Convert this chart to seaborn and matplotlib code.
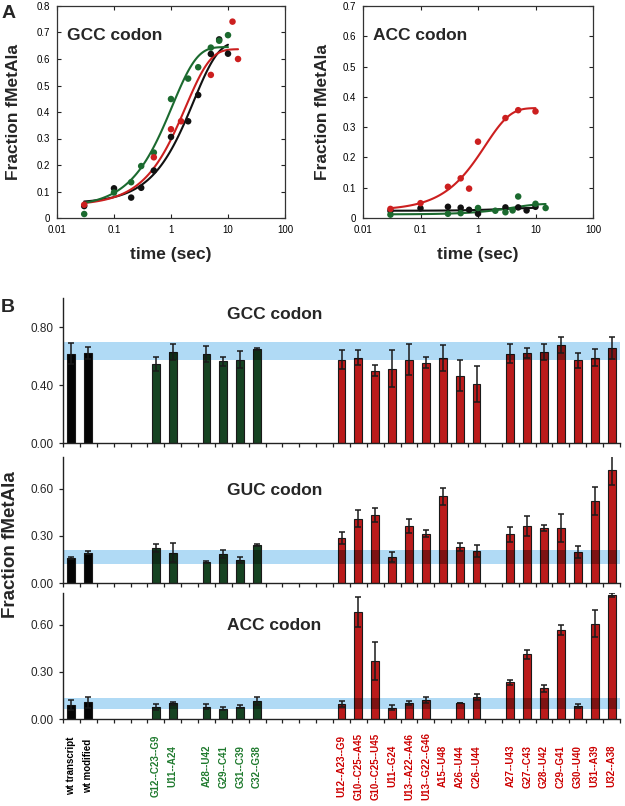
import numpy as np
import pandas as pd
import matplotlib
matplotlib.use("Agg")
import matplotlib.pyplot as plt
from matplotlib import ticker
from matplotlib.path import Path
import seaborn as sns

sns.set_style("ticks")
plt.rcParams["font.family"] = ["Liberation Sans", "DejaVu Sans"]

# ---------------- panel A : time courses ----------------
gcc_black_t = [0.03, 0.1, 0.2, 0.3, 0.5, 1, 2, 3, 5, 7, 10]
gcc_black_y = [0.045, 0.112, 0.077, 0.114, 0.179, 0.306, 0.365, 0.464, 0.619, 0.674, 0.62]
gcc_green_t = [0.03, 0.1, 0.2, 0.3, 0.5, 1, 2, 3, 5, 7, 10]
gcc_green_y = [0.015, 0.096, 0.135, 0.196, 0.247, 0.449, 0.526, 0.569, 0.643, 0.669, 0.69]
gcc_red_t = [0.03, 0.5, 1, 1.5, 5, 12, 15]
gcc_red_y = [0.05, 0.229, 0.335, 0.365, 0.54, 0.741, 0.6]

acc_red_t = [0.03, 0.1, 0.3, 0.5, 0.7, 1, 3, 5, 10]
acc_red_y = [0.03, 0.049, 0.103, 0.131, 0.097, 0.252, 0.33, 0.356, 0.352]
acc_black_t = [0.03, 0.1, 0.3, 0.5, 0.7, 1, 3, 5, 7, 10]
acc_black_y = [0.024, 0.032, 0.037, 0.034, 0.027, 0.014, 0.035, 0.035, 0.025, 0.037]
acc_green_t = [0.03, 0.3, 0.5, 1, 2, 3, 4, 5, 10, 15]
acc_green_y = [0.011, 0.014, 0.016, 0.033, 0.024, 0.019, 0.025, 0.071, 0.047, 0.033]

# single exponential fits: (start, amplitude, k, last time)
gcc_fits = {"black": (0.055, 0.61, 0.40, 10), "red": (0.047, 0.59, 0.55, 15),
            "green": (0.04, 0.605, 0.95, 10)}
acc_fits = {"black": (0.024, 0.01, 0.3, 10), "green": (0.012, 0.035, 0.25, 15),
            "red": (0.025, 0.338, 0.75, 10)}

pal_a = {"black": "#111111", "red": "#cc1f1f", "green": "#1b6a2f"}

# ---------------- panel B : bar charts ----------------
layout = ["wt transcript", "wt modified", "", "", "",
          "G12--C23--G9", "U11--A24", "", "A28--U42", "G29--C41", "G31--C39", "C32--G38",
          "", "", "", "",
          "U12--A23--G9", "G10--C25--A45", "G10--C25--U45", "U11--G24", "U13--A22--A46",
          "U13--G22--G46", "A15--U48", "A26--U44", "C26--U44", "",
          "A27--U43", "G27--C43", "G28--U42", "C29--G41", "G30--U40", "U31--A39", "U32--A38"]
groups = ["wt"] * 2 + ["green"] * 6 + ["red"] * 16

gcc_val = [0.617, 0.62,
           0.548, 0.626, 0.617, 0.564, 0.575, 0.647,
           0.575, 0.589, 0.499, 0.513, 0.575, 0.555, 0.589, 0.464, 0.407,
           0.617, 0.62, 0.626, 0.675, 0.57, 0.589, 0.654]
gcc_err = [0.07, 0.04,
           0.048, 0.055, 0.055, 0.03, 0.058, 0.005,
           0.065, 0.05, 0.04, 0.13, 0.105, 0.04, 0.09, 0.106, 0.127,
           0.063, 0.033, 0.055, 0.055, 0.05, 0.056, 0.076]
guc_val = [0.158, 0.193,
           0.221, 0.193, 0.135, 0.185, 0.147, 0.242,
           0.286, 0.408, 0.433, 0.164, 0.364, 0.313, 0.55, 0.231, 0.202,
           0.31, 0.364, 0.349, 0.349, 0.196, 0.522, 0.716]
guc_err = [0.005, 0.01,
           0.025, 0.06, 0.005, 0.025, 0.02, 0.008,
           0.04, 0.055, 0.043, 0.032, 0.044, 0.022, 0.054, 0.025, 0.04,
           0.047, 0.063, 0.021, 0.089, 0.04, 0.088, 0.094]
acc_val = [0.089, 0.106,
           0.075, 0.1, 0.079, 0.064, 0.079, 0.112,
           0.094, 0.677, 0.366, 0.0725, 0.1, 0.119, np.nan, 0.104, 0.1375,
           0.233, 0.41, 0.194, 0.566, 0.081, 0.606, 0.785]
acc_err = [0.03, 0.035,
           0.02, 0.01, 0.015, 0.01, 0.008, 0.025,
           0.02, 0.095, 0.12, 0.017, 0.014, 0.019, np.nan, 0.0, 0.019,
           0.017, 0.027, 0.025, 0.031, 0.013, 0.088, 0.013]

# wt range bands (low, high)
gcc_band = (0.575, 0.70)
guc_band = (0.122, 0.21)
acc_band = (0.066, 0.135)

pal_b = {"wt": "#050505", "green": "#0f4a1e", "red": "#d60000"}
lab_col = {"wt": "#000000", "green": "#1f7a2e", "red": "#cc0000"}

W, H = 625, 806
fig = plt.figure(figsize=(W / 100, H / 100), dpi=100)


def px_axes(x0, y0, x1, y1):
    return fig.add_axes([x0 / W, 1 - y1 / H, (x1 - x0) / W, (y1 - y0) / H])


def time_panel(ax, series, fits, ymax, title):
    pts = pd.concat([pd.DataFrame({"t": t, "y": y, "s": s}) for s, (t, y) in series.items()])
    curves = []
    for s, (a0, amp, k, tmax) in fits.items():
        tt = np.logspace(np.log10(0.03), np.log10(tmax), 120)
        curves.append(pd.DataFrame({"t": tt, "y": a0 + amp * (1 - np.exp(-k * tt)), "s": s}))
    curves = pd.concat(curves)
    ax.set_xscale("log")
    sns.lineplot(data=curves, x="t", y="y", hue="s", palette=pal_a, linewidth=1.5,
                 estimator=None, legend=False, ax=ax)
    sns.scatterplot(data=pts, x="t", y="y", hue="s", palette=pal_a, s=22,
                    edgecolor="none", legend=False, ax=ax, zorder=3)
    ax.set_xlim(0.01, 100)
    ax.set_ylim(0, ymax)
    ax.xaxis.set_major_locator(ticker.FixedLocator([0.01, 0.1, 1, 10, 100]))
    ax.xaxis.set_major_formatter(ticker.FuncFormatter(lambda v, _: f"{v:g}"))
    ax.xaxis.set_minor_locator(ticker.NullLocator())
    ax.set_yticks(np.arange(0, ymax + 0.001, 0.1))
    ax.yaxis.set_major_formatter(ticker.FuncFormatter(lambda v, _: f"{v:g}"))
    ax.tick_params(direction="in", top=True, right=True, length=3, width=0.8,
                   labelsize=7, pad=5, colors="#222222", labelcolor="black")
    for sp in ax.spines.values():
        sp.set_linewidth(0.9)
        sp.set_color("#333333")
    ax.set_xlabel("time (sec)", fontsize=12.5, fontweight="bold")
    ax.set_ylabel("Fraction fMetAla", fontsize=12.5, fontweight="bold")
    ax.xaxis.set_label_coords(0.5, -0.135)
    ax.text(0.045, 0.86, title, transform=ax.transAxes, fontsize=12.5,
            fontweight="bold", va="center")


axA1 = px_axes(57, 6, 285, 218)
time_panel(axA1, {"black": (gcc_black_t, gcc_black_y), "green": (gcc_green_t, gcc_green_y),
                  "red": (gcc_red_t, gcc_red_y)}, gcc_fits, 0.8, "GCC codon")
axA1.yaxis.set_label_coords(-0.16, 0.5)

axA2 = px_axes(363, 6, 593, 218)
time_panel(axA2, {"black": (acc_black_t, acc_black_y), "green": (acc_green_t, acc_green_y),
                  "red": (acc_red_t, acc_red_y)}, acc_fits, 0.7, "ACC codon")
axA2.yaxis.set_label_coords(-0.143, 0.5)

slot_pos = [i for i, lab in enumerate(layout) if lab]
slot_lab = [lab for lab in layout if lab]


def bar_panel(ax, vals, errs, band, ymax, yticks, title, ty, show_labels):
    df = pd.DataFrame({"pos": slot_pos, "val": vals, "err": errs, "group": groups})
    sns.barplot(data=df, x="pos", y="val", hue="group", palette=pal_b, native_scale=True,
                dodge=False, width=0.47, errorbar=None, legend=False,
                edgecolor="#1a1a1a", linewidth=0.8, ax=ax, zorder=2)
    bars = list(ax.patches)
    # light band behind the bars, darkening of the bars where they cross it
    ax.axhspan(band[0], band[1], color="#b0daf5", lw=0, zorder=1)
    bar_path = Path.make_compound_path(
        *[b.get_path().transformed(b.get_patch_transform()) for b in bars])
    shade = ax.axhspan(band[0], band[1], color="black", alpha=0.32, lw=0, zorder=3)
    shade.set_clip_path(bar_path, ax.transData)
    ok = df.dropna()
    ax.errorbar(ok["pos"], ok["val"], yerr=ok["err"], fmt="none", ecolor="#1a1a1a",
                elinewidth=1.1, capsize=2, capthick=1.1, zorder=4)
    ax.set_xlim(-0.5, len(layout) - 0.5)
    ax.set_ylim(0, ymax)
    ax.set_yticks(yticks)
    ax.yaxis.set_major_formatter(ticker.FormatStrFormatter("%.2f"))
    ax.set_xticks(np.arange(-0.5, len(layout), 1))
    ax.set_xticklabels([])
    ax.set_xticks(slot_pos, minor=True)
    ax.tick_params(axis="x", which="major", direction="out", length=3, width=0.9, color="#222222")
    ax.tick_params(axis="y", direction="out", length=3, width=0.9, labelsize=8.5, color="#222222")
    if show_labels:
        ax.set_xticklabels(slot_lab, minor=True)
        ax.tick_params(axis="x", which="minor", length=0, pad=34, labelsize=7)
        for tl, g in zip(ax.get_xticklabels(minor=True), groups):
            tl.set_rotation(90)
            tl.set_va("center")
            tl.set_fontweight("bold")
            tl.set_color(lab_col[g])
    else:
        ax.tick_params(axis="x", which="minor", length=0, labelbottom=False)
    ax.set_xlabel("")
    ax.set_ylabel("")
    sns.despine(ax=ax)
    for sp in ("left", "bottom"):
        ax.spines[sp].set_linewidth(1.0)
        ax.spines[sp].set_color("#222222")
    ax.text(0.294, ty, title, transform=ax.transAxes, fontsize=12.5,
            fontweight="bold", va="center")


axB1 = px_axes(63, 298, 620, 443)
bar_panel(axB1, gcc_val, gcc_err, gcc_band, 1.0, [0, 0.4, 0.8], "GCC codon", 0.883, False)
axB2 = px_axes(63, 457, 620, 583)
bar_panel(axB2, guc_val, guc_err, guc_band, 0.8, [0, 0.3, 0.6], "GUC codon", 0.737, False)
axB3 = px_axes(63, 593, 620, 719)
bar_panel(axB3, acc_val, acc_err, acc_band, 0.8, [0, 0.3, 0.6], "ACC codon", 0.74, True)

fig.text(11 / W, 1 - 545 / H, "Fraction fMetAla", rotation=90, fontsize=13.5,
         fontweight="bold", ha="center", va="center")
fig.text(2 / W, 1 - 13 / H, "A", fontsize=14, fontweight="bold", va="center")
fig.text(1 / W, 1 - 307 / H, "B", fontsize=14, fontweight="bold", va="center")

fig.savefig("out.png", dpi=100)
